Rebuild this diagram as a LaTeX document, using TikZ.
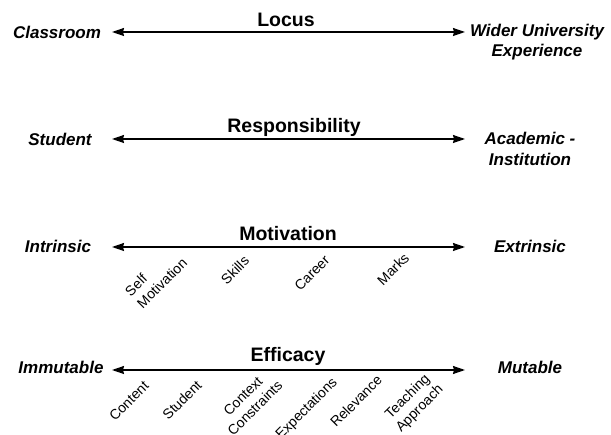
\documentclass[tikz,border=0pt]{standalone}
\usepackage{fontspec}
\setmainfont{Liberation Sans}
\usetikzlibrary{arrows.meta}
\begin{document}
\begin{tikzpicture}[x=1pt,y=-1pt,
  title/.style={font=\fontsize{19.5}{22}\selectfont\bfseries, inner sep=0pt},
  pole/.style={font=\fontsize{17}{20.5}\selectfont\bfseries\itshape, align=center, inner sep=0pt},
  item/.style={font=\fontsize{14}{17}\selectfont, rotate=45, align=center, inner sep=0pt},
  itemleft/.style={item, align=left},
  arr/.style={line width=1.4pt, {Stealth[length=12pt,width=8pt,inset=1pt]}-{Stealth[length=12pt,width=8pt,inset=1pt]}}
]
\useasboundingbox (0,0) rectangle (611,435);

% Locus
\node[title] (t1) at (286,20) {Locus};
\node[pole] (a1) at (57,32) {Classroom};
\node[pole] (b1) at (537,42) {Wider University\\Experience};
\coordinate (l1) at (112,32);
\coordinate (r1) at (465,32);
\draw[arr] (l1) -- (r1);

% Responsibility
\node[title] (t2) at (294,127) {Responsibility};
\node[pole] (a2) at (60,139) {Student};
\node[pole] (b2) at (530,149) {Academic -\\Institution};
\coordinate (l2) at (112,139);
\coordinate (r2) at (465,139);
\draw[arr] (l2) -- (r2);

% Motivation
\node[title] (t3) at (288,234) {Motivation};
\node[pole] (a3) at (58,246) {Intrinsic};
\node[pole] (b3) at (530,246) {Extrinsic};
\coordinate (l3) at (112,247);
\coordinate (r3) at (465,247);
\draw[arr] (l3) -- (r3);
\node[itemleft] (m1) at (156,277) {Self\\Motivation};
\node[item] (m2) at (235,270) {Skills};
\node[item] (m3) at (312,273) {Career};
\node[item] (m4) at (393,269) {Marks};

% Efficacy
\node[title] (t4) at (288,356) {Efficacy};
\node[pole] (a4) at (61,367) {Immutable};
\node[pole] (b4) at (530,367) {Mutable};
\coordinate (l4) at (112,370);
\coordinate (r4) at (465,370);
\draw[arr] (l4) -- (r4);
\node[item] (e1) at (129,401) {Content};
\node[item] (e2) at (182,400) {Student};
\node[item] (e3) at (249,402) {Context\\Constraints};
\node[item] (e4) at (307,409) {Expectations};
\node[item] (e5) at (356,401) {Relevance};
\node[item] (e6) at (414,403) {Teaching\\Approach};
\end{tikzpicture}
\end{document}
